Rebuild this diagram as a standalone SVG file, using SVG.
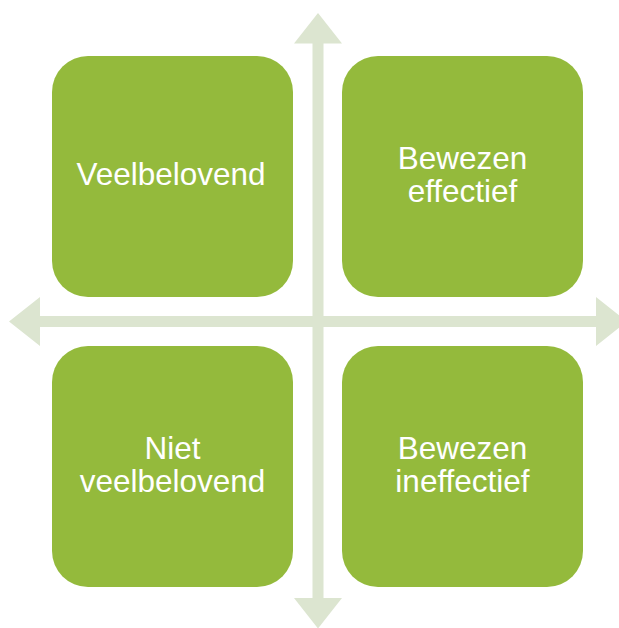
<svg xmlns="http://www.w3.org/2000/svg" width="619" height="628" viewBox="0 0 619 628">
  <style>
    .axis { fill: #DCE5D0; }
    .box { fill: #94BA3C; }
    .lbl { fill: #FFFFFF; font-family: "Liberation Sans", Arial, sans-serif; font-size: 31.5px; text-anchor: middle; }
  </style>
  <rect width="619" height="628" fill="#FFFFFF"/>
  <g id="axes">
    <polygon class="axis" points="318,13 342,43.5 323.5,43.5 323.5,598 342,598 318,628.5 294,598 312.5,598 312.5,43.5 294,43.5"/>
    <polygon class="axis" points="9,321.5 40,297 40,316 596,316 596,297 627,321.5 596,346 596,327 40,327 40,346"/>
  </g>
  <g id="veelbelovend">
    <rect class="box" x="52" y="56" width="241" height="241" rx="36" ry="36"/>
    <text class="lbl" x="171" y="185">Veelbelovend</text>
  </g>
  <g id="bewezen-effectief">
    <rect class="box" x="342" y="56" width="241" height="241" rx="36" ry="36"/>
    <text class="lbl" x="462.5" y="169">Bewezen</text>
    <text class="lbl" x="462.5" y="201.5">effectief</text>
  </g>
  <g id="niet-veelbelovend">
    <rect class="box" x="52" y="346" width="241" height="241" rx="36" ry="36"/>
    <text class="lbl" x="172.5" y="459">Niet</text>
    <text class="lbl" x="172.5" y="491.5">veelbelovend</text>
  </g>
  <g id="bewezen-ineffectief">
    <rect class="box" x="342" y="346" width="241" height="241" rx="36" ry="36"/>
    <text class="lbl" x="462.5" y="459">Bewezen</text>
    <text class="lbl" x="462.5" y="491.5">ineffectief</text>
  </g>
</svg>
